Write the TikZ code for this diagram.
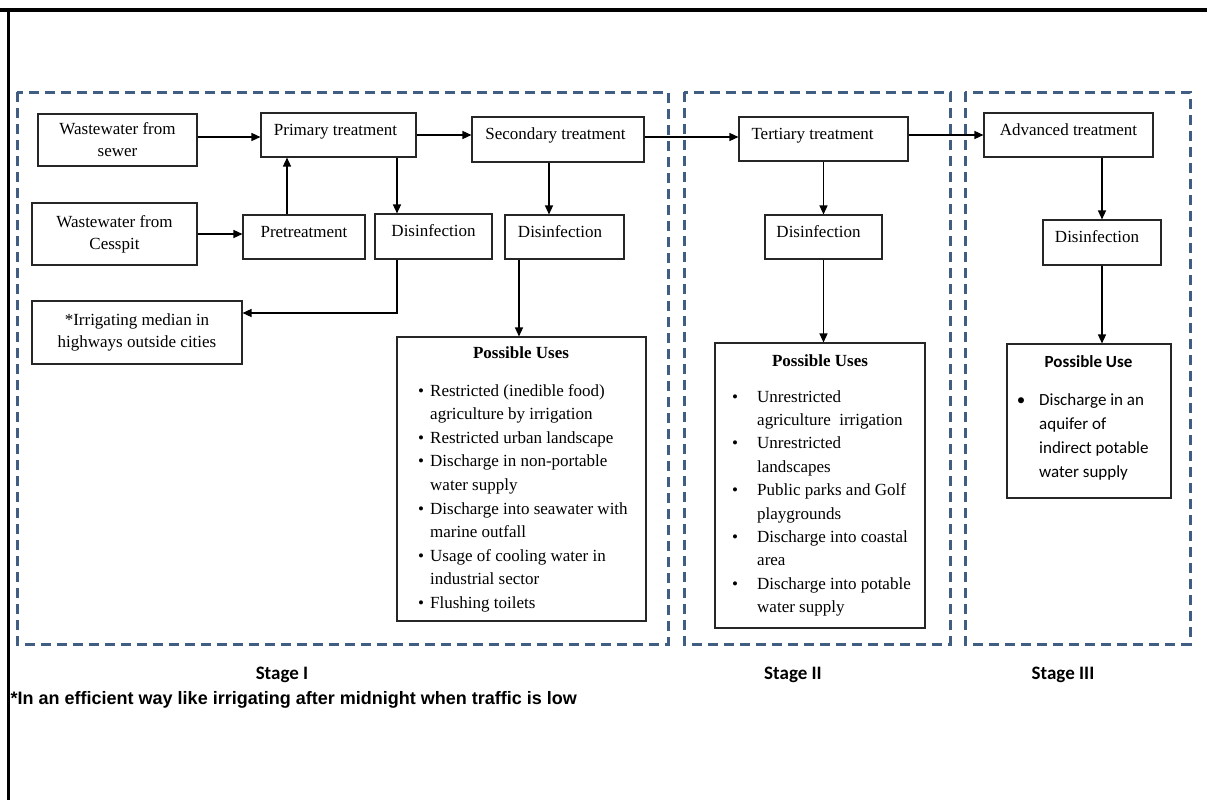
\documentclass[tikz,border=0pt]{standalone}
\usepackage{fontspec}
\setmainfont{Liberation Serif}
\newfontfamily\carlito{Carlito}
\newfontfamily\lsans{Liberation Sans}
\usetikzlibrary{arrows.meta,calc}
\definecolor{stageblue}{RGB}{64,94,130}
\begin{document}
\begin{tikzpicture}[x=1pt,y=-1pt,
  box/.style={draw=black!85, line width=1.1pt, inner sep=0pt, align=center, font=\fontsize{17}{22}\selectfont},
  one/.style={text height=10pt, text depth=10pt},
  arr/.style={line width=1.3pt, -{Triangle[length=9pt,width=8pt]}},
  stagebox/.style={draw=stageblue, line width=3pt, dash pattern=on 10pt off 6pt},
  ttl/.style={font=\fontsize{17}{22}\selectfont\bfseries, inner sep=0pt},
  lst/.style={anchor=north west, inner sep=0pt, align=left},
  stagelbl/.style={font=\carlito\fontsize{19}{23}\selectfont\bfseries, inner sep=0pt}]
\useasboundingbox (0,0) rectangle (1207,800);
% frame
\draw[line width=3.4pt] (0,10) -- (1207,10);
\draw[line width=3pt] (8,10) -- (8,800);
% stage containers
\draw[stagebox] (17,92) rectangle (668,644);
\draw[stagebox] (684,92) rectangle (950,644);
\draw[stagebox] (965,92) rectangle (1190,644);
% boxes
\node[box, minimum width=159pt, minimum height=52pt] (sewer) at (117.5,140) {Wastewater from\\sewer};
\node[box, minimum width=165pt, minimum height=62pt] (cess) at (114.5,234) {Wastewater from\\Cesspit};
\node[box, minimum width=210pt, minimum height=63pt] (irr) at (137,332.5) {*Irrigating median in\\highways outside cities};
\node[box, one, minimum width=155pt, minimum height=44pt] (prim) at (338.5,135) {\hspace*{-6pt}Primary treatment};
\node[box, one, minimum width=122pt, minimum height=44pt] (pre) at (304,237) {Pretreatment};
\node[box, one, minimum width=117pt, minimum height=45pt] (dis1) at (433.5,236.5) {Disinfection};
\node[box, one, minimum width=172pt, minimum height=45pt] (sec) at (558,139.5) {\hspace*{-5pt}Secondary treatment};
\node[box, one, minimum width=119pt, minimum height=44pt] (dis2) at (564.5,237) {\hspace*{-9pt}Disinfection};
\node[box, one, minimum width=169pt, minimum height=44pt] (ter) at (823.5,139) {\hspace*{-22pt}Tertiary treatment};
\node[box, one, minimum width=117pt, minimum height=44pt] (dis3) at (823.5,237) {\hspace*{-10pt}Disinfection};
\node[box, one, minimum width=169pt, minimum height=44pt] (adv) at (1068.5,135) {Advanced treatment};
\node[box, one, minimum width=118pt, minimum height=45pt] (dis4) at (1102,242.5) {\hspace*{-10pt}Disinfection};
\node[box, minimum width=249pt, minimum height=284pt] (pu1) at (521.5,479) {};
\node[box, minimum width=210pt, minimum height=285pt] (pu2) at (820,485.5) {};
\node[box, minimum width=164pt, minimum height=154pt] (pu3) at (1089,421) {};
% titles
\node[ttl] (pu1t) at (521,353) {Possible Uses};
\node[ttl] (pu2t) at (820,361) {Possible Uses};
\node[ttl, font=\carlito\fontsize{17}{22}\selectfont\bfseries] (pu3t) at (1088.5,362) {Possible Use};
% lists
\node[lst, font=\fontsize{17}{23.6}\selectfont] (pu1l) at (417,384) {%
\makebox[8pt]{•}\hspace{5pt}Restricted (inedible food)\\
\hspace*{13pt}agriculture by irrigation\\
\makebox[8pt]{•}\hspace{5pt}Restricted urban landscape\\
\makebox[8pt]{•}\hspace{5pt}Discharge in non-portable\\
\hspace*{13pt}water supply\\
\makebox[8pt]{•}\hspace{5pt}Discharge into seawater with\\
\hspace*{13pt}marine outfall\\
\makebox[8pt]{•}\hspace{5pt}Usage of cooling water in\\
\hspace*{13pt}industrial sector\\
\makebox[8pt]{•}\hspace{5pt}Flushing toilets};
\node[lst, font=\fontsize{17}{23.4}\selectfont] (pu2l) at (729,390) {%
\makebox[12pt]{•}\hspace{16pt}Unrestricted\\
\hspace*{28pt}agriculture\ \ irrigation\\
\makebox[12pt]{•}\hspace{16pt}Unrestricted\\
\hspace*{28pt}landscapes\\
\makebox[12pt]{•}\hspace{16pt}Public parks and Golf\\
\hspace*{28pt}playgrounds\\
\makebox[12pt]{•}\hspace{16pt}Discharge into coastal\\
\hspace*{28pt}area\\
\makebox[12pt]{•}\hspace{16pt}Discharge into potable\\
\hspace*{28pt}water supply};
\node[lst, font=\carlito\fontsize{17}{24.3}\selectfont] (pu3l) at (1013,393) {%
\makebox[16pt]{•}\hspace{10pt}Discharge in an\\
\hspace*{26pt}aquifer of\\
\hspace*{26pt}indirect potable\\
\hspace*{26pt}water supply};
% stage labels and footnote
\node[stagelbl] (st1) at (282,675) {Stage I};
\node[stagelbl] (st2) at (793,675) {Stage II};
\node[stagelbl] (st3) at (1063,675) {Stage III};
\node[anchor=base west, inner sep=0pt, font=\lsans\fontsize{18}{22}\selectfont\bfseries] (note) at (10.5,704) {*In an efficient way like irrigating after midnight when traffic is low};
% connectors
\coordinate (c1) at ([yshift=3pt]sewer.east);
\draw[arr] (c1) -- (c1 -| prim.west);
\draw[arr] (cess.east) -- (cess.east -| pre.west);
\coordinate (c3) at ([xshift=-17pt]pre.north);
\draw[arr] (c3) -- (c3 |- prim.south);
\coordinate (c4) at ([xshift=-36.5pt]dis1.north);
\draw[arr] (c4 |- prim.south) -- (c4);
\coordinate (c5) at ([xshift=-36.5pt]dis1.south);
\coordinate (c5b) at ([yshift=19.5pt]irr.east);
\draw[arr] (c5) |- (c5b);
\draw[arr] (prim.east) -- (prim.east -| sec.west);
\coordinate (c7) at ([xshift=-9pt]sec.south);
\draw[arr] (c7) -- (c7 |- dis2.north);
\coordinate (c8) at ([xshift=-45.5pt]dis2.south);
\draw[arr] (c8) -- (c8 |- pu1.north);
\coordinate (c9) at ([yshift=2.5pt]sec.east);
\draw[arr] (c9) -- (c9 -| ter.west);
\draw[arr] (ter.south) -- (dis3.north);
\draw[arr] (dis3.south) -- (dis3.south |- pu2.north);
\draw[arr] (ter.east |- adv.west) -- (adv.west);
\draw[arr] (adv.south -| dis4.north) -- (dis4.north);
\draw[arr] (dis4.south) -- (dis4.south |- pu3.north);
\end{tikzpicture}
\end{document}
